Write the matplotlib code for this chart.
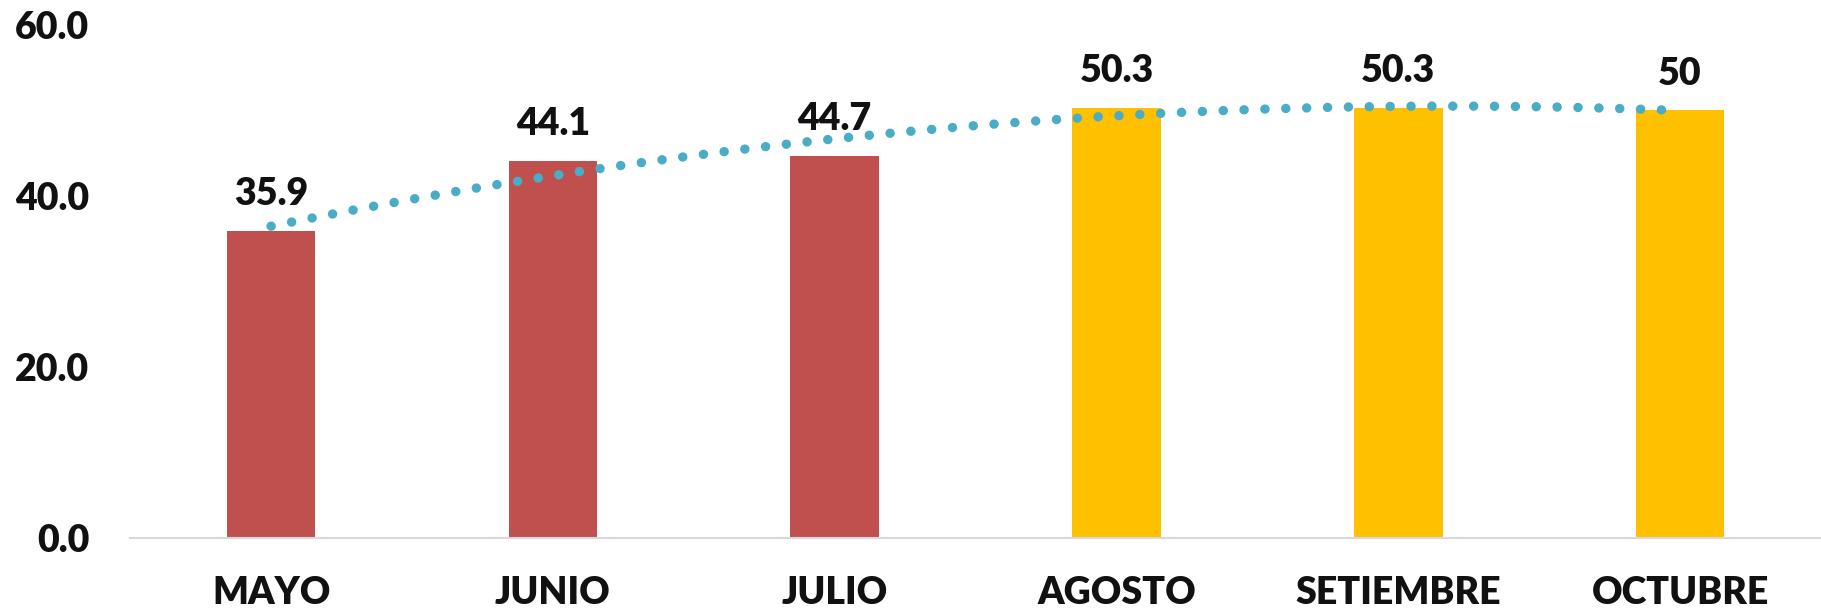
import numpy as np
import matplotlib
matplotlib.use('Agg')
import matplotlib.pyplot as plt
from matplotlib.ticker import FormatStrFormatter

# Data
months = ['MAYO', 'JUNIO', 'JULIO', 'AGOSTO', 'SETIEMBRE', 'OCTUBRE']
values = [35.9, 44.1, 44.7, 50.3, 50.3, 50]
value_labels = ['35.9', '44.1', '44.7', '50.3', '50.3', '50']

red = '#C0504D'
gold = '#FFC000'
bar_colors = [red, red, red, gold, gold, gold]

plt.rcParams['font.family'] = ['Lato', 'DejaVu Sans']
plt.rcParams['font.weight'] = 'heavy'

fig = plt.figure(figsize=(18.21, 6.09), dpi=100)
ax = fig.add_axes([0.0715, 0.1174, 0.9285, 0.8416])

x = np.arange(len(months))
ax.bar(x, values, width=0.315, color=bar_colors, zorder=2)

# polynomial trendline (order 2), like the spreadsheet trendline
coef = np.polyfit(x, values, 2)
xs = np.linspace(x[0], x[-1], 300)
ax.plot(xs, np.polyval(coef, xs), color='#4BACC6', lw=6.8,
        linestyle=(0, (0.01, 2.2)), dash_capstyle='round', zorder=3)

for xi, v, lab in zip(x, values, value_labels):
    ax.annotate(lab, (xi, v), xytext=(0, 18.5), textcoords='offset points',
                ha='center', va='baseline', fontsize=27, fontweight='heavy',
                color='#111111')

ax.set_xlim(-0.5, len(months) - 0.5)
ax.set_ylim(0, 60)
ax.set_yticks([0, 20, 40, 60])
ax.yaxis.set_major_formatter(FormatStrFormatter('%.1f'))
ax.set_xticks(x)
ax.set_xticklabels(months)
ax.tick_params(axis='both', length=0, labelsize=27, labelcolor='#111111')
ax.tick_params(axis='y', pad=29.5)
ax.tick_params(axis='x', pad=28)

for s in ['top', 'right', 'left']:
    ax.spines[s].set_visible(False)
ax.spines['bottom'].set_color('#D9D9D9')
ax.spines['bottom'].set_linewidth(1.5)

plt.savefig('out.png', dpi=100)
